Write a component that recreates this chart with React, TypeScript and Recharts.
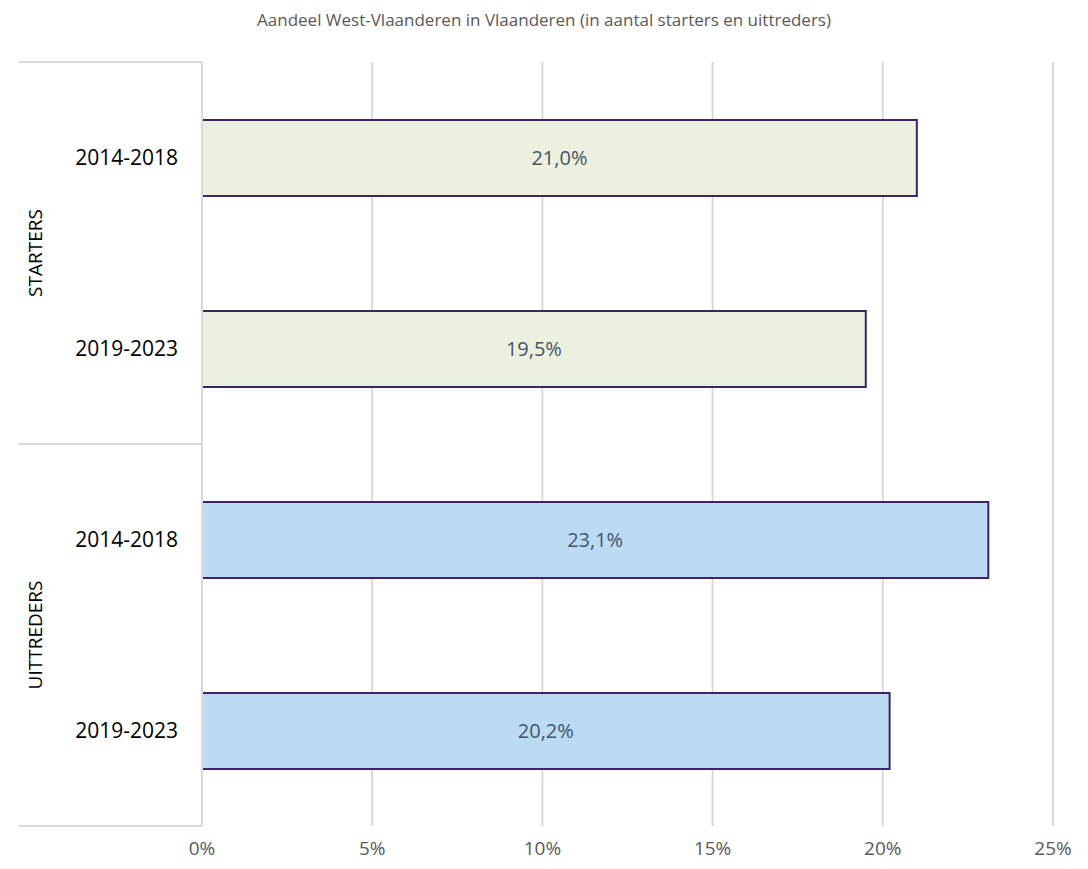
import { BarChart, Bar, XAxis, YAxis, CartesianGrid, LabelList, Cell } from "recharts";

const TITLE = "Aandeel West-Vlaanderen in Vlaanderen (in aantal starters en uittreders)";
const groups = ["STARTERS", "STARTERS", "UITTREDERS", "UITTREDERS"];
const periods = ["2014-2018", "2019-2023", "2014-2018", "2019-2023"];
const shares = [21.0, 19.5, 23.1, 20.2];
const xTicks = [0, 5, 10, 15, 20, 25];

const GROUP_COLORS: Record<string, string> = {
  STARTERS: "#EBF1DE",
  UITTREDERS: "#BBDAF4",
};

const data = periods.map((p, i) => ({
  key: `${groups[i]}-${p}`,
  group: groups[i],
  period: p,
  share: shares[i],
}));

const W = 1088;
const H = 869;
const MARGIN = { top: 62, right: 35, bottom: 0, left: 0 };
const Y_W = 202;
const X_H = 43;
const BAND = (H - MARGIN.top - MARGIN.bottom - X_H) / data.length;
const FONT = "'Open Sans', sans-serif";
const GRID = "#d9d9d9";

function CategoryTick(props: any) {
  const { y, payload } = props;
  const i = payload.index;
  const row = data[i];
  const first = i === 0 || data[i - 1].group !== row.group;
  const last = i === data.length - 1 || data[i + 1].group !== row.group;
  return (
    <g>
      <text x={Y_W - 24} y={y} dy={7} textAnchor="end" fontSize={21} fill="#000" fontFamily={FONT}>
        {row.period}
      </text>
      {first && (
        <>
          <line x1={19} x2={Y_W} y1={y - BAND / 2} y2={y - BAND / 2} stroke={GRID} strokeWidth={2} />
          <text
            x={0}
            y={0}
            transform={`translate(42, ${y + BAND / 2}) rotate(-90)`}
            textAnchor="middle"
            fontSize={19}
            fill="#000"
            fontFamily={FONT}
          >
            {row.group}
          </text>
        </>
      )}
      {last && <line x1={19} x2={Y_W} y1={y + BAND / 2} y2={y + BAND / 2} stroke={GRID} strokeWidth={2} />}
    </g>
  );
}

export default function App() {
  return (
    <div style={{ position: "absolute", left: 0, top: 0, width: W, height: H, background: "#fff" }}>
      <div
        style={{
          position: "absolute",
          top: 8,
          left: 0,
          width: W,
          textAlign: "center",
          fontFamily: FONT,
          fontSize: 17,
          color: "#595959",
        }}
      >
        {TITLE}
      </div>
      <BarChart width={W} height={H} data={data} layout="vertical" margin={MARGIN}>
        <CartesianGrid horizontal={false} stroke={GRID} strokeWidth={2} />
        <XAxis
          type="number"
          domain={[0, 25]}
          ticks={xTicks}
          tickFormatter={(v) => `${v}%`}
          axisLine={false}
          tickLine={false}
          height={X_H}
          tick={{ fontSize: 19, fill: "#595959", fontFamily: FONT, dy: 8 }}
          interval={0}
        />
        <YAxis
          type="category"
          dataKey="key"
          width={Y_W}
          axisLine={{ stroke: GRID, strokeWidth: 2 }}
          tickLine={false}
          tick={<CategoryTick />}
          interval={0}
        />
        <Bar dataKey="share" barSize={76} stroke="#3D2469" strokeWidth={2} isAnimationActive={false}>
          {data.map((d) => (
            <Cell key={d.key} fill={GROUP_COLORS[d.group]} />
          ))}
          <LabelList
            dataKey="share"
            position="center"
            formatter={(v: any) => `${Number(v).toFixed(1).replace(".", ",")}%`}
            fill="#44546A"
            fontSize={20}
            fontFamily={FONT}
          />
        </Bar>
      </BarChart>
    </div>
  );
}
